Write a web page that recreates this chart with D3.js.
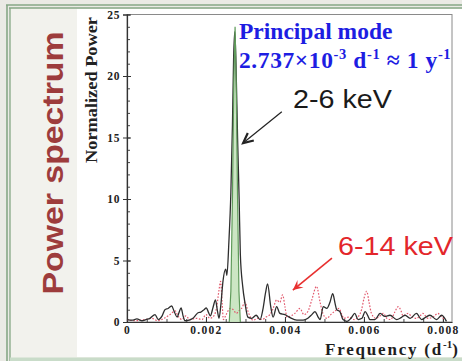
<!DOCTYPE html>
<html>
<head>
<meta charset="utf-8">
<script src="https://cdn.jsdelivr.net/npm/d3@7"></script>
<style>
  html, body { margin: 0; padding: 0; background: #fff; }
  svg { display: block; }
</style>
</head>
<body>
<svg id="chart" width="462" height="361"></svg>
<script>
// Frequencies are in units of 10^-3 d^-1.
const softFreq = [0.00, 0.13, 0.25, 0.38, 0.48, 0.58, 0.71, 0.79, 0.89, 0.96, 1.04, 1.13, 1.19, 1.27, 1.32, 1.37, 1.42, 1.47, 1.57, 1.67, 1.75, 1.80, 1.87, 1.95, 2.01, 2.06, 2.11, 2.18, 2.24, 2.29, 2.33, 2.38, 2.43, 2.50, 2.53, 2.58, 2.63, 2.67, 2.70, 2.73, 2.76, 2.80, 2.84, 2.87, 2.93, 2.99, 3.06, 3.16, 3.27, 3.37, 3.44, 3.51, 3.56, 3.64, 3.70, 3.79, 3.87, 4.00, 4.13, 4.30, 4.46, 4.58, 4.68, 4.76, 4.84, 4.89, 4.97, 5.06, 5.14, 5.21, 5.27, 5.31, 5.39, 5.47, 5.57, 5.67, 5.77, 5.85, 5.95, 6.03, 6.10, 6.15, 6.28, 6.41, 6.53, 6.66, 6.83, 6.94, 7.04, 7.17, 7.33, 7.46, 7.57, 7.67, 7.84, 7.97, 8.09];
const softPower = [0.2, 0.15, 0.25, 0.1, 0.2, 0.3, 0.6, 0.2, 0.5, 1.0, 1.1, 1.3, 0.9, 0.4, 0.8, 1.15, 0.5, 0.1, 0.15, 0.3, 0.6, 0.75, 0.8, 1.0, 1.15, 0.8, 0.5, 1.2, 1.8, 0.9, 0.3, 1.5, 3.3, 4.3, 3.8, 6.5, 10.5, 16, 21.5, 23.6, 21, 15, 10, 5.5, 2.9, 1.5, 0.4, 0.3, 0.55, 0.2, 1.0, 2.4, 3.1, 1.25, 0.4, 1.25, 0.7, 0.6, 0.35, 0.15, 0.15, 0.3, 0.6, 0.85, 0.4, 0.2, 1.25, 1.1, 1.6, 2.3, 1.5, 1.0, 0.85, 0.2, 0.05, 0.3, 0.7, 0.2, 0.3, 0.85, 0.5, 0.2, 0.2, 0.7, 0.45, 0.55, 0.2, 0.35, 0.55, 0.3, 0.7, 0.2, 0.4, 0.55, 0.2, 0.55, 0.05];

const hardFreq = [0.00, 0.20, 0.46, 0.63, 0.78, 0.94, 1.09, 1.22, 1.29, 1.39, 1.49, 1.59, 1.75, 1.90, 2.00, 2.10, 2.20, 2.27, 2.33, 2.37, 2.41, 2.44, 2.51, 2.61, 2.69, 2.77, 2.83, 2.90, 2.99, 3.06, 3.19, 3.32, 3.42, 3.52, 3.62, 3.70, 3.79, 3.87, 3.94, 4.00, 4.05, 4.15, 4.25, 4.38, 4.48, 4.58, 4.68, 4.80, 4.89, 4.96, 5.06, 5.16, 5.27, 5.37, 5.44, 5.49, 5.62, 5.75, 5.87, 5.94, 6.00, 6.07, 6.13, 6.19, 6.30, 6.41, 6.49, 6.58, 6.68, 6.78, 6.87, 6.94, 6.99, 7.12, 7.22, 7.33, 7.42, 7.49, 7.62, 7.75, 7.87, 7.97, 8.05];
const hardPower = [0.2, 0.1, 0.2, 0.3, 0.1, 0.3, 0.6, 0.9, 0.5, 0.2, 0.5, 0.2, 0.3, 0.2, 0.6, 0.3, 0.5, 1.2, 2.6, 3.3, 1.5, 0.2, 0.6, 1.1, 1.0, 0.7, 0.9, 1.1, 1.6, 0.9, 0.15, 0.3, 0.2, 0.4, 0.6, 1.1, 1.8, 1.6, 2.2, 1.25, 0.4, 0.5, 0.7, 1.1, 0.6, 0.85, 1.8, 2.9, 1.6, 0.7, 0.3, 0.6, 0.9, 1.1, 0.6, 0.3, 0.4, 0.2, 0.5, 1.0, 1.9, 2.5, 1.6, 0.7, 0.3, 0.5, 0.7, 0.3, 0.2, 0.8, 1.25, 0.9, 0.5, 0.7, 0.4, 0.3, 0.5, 0.7, 0.3, 0.4, 0.7, 0.4, 0.2];

// Principal mode line (single-frequency component)
const modeFreq = [2.59, 2.63, 2.67, 2.705, 2.737, 2.765, 2.80, 2.835, 2.87];
const modePower = [0, 2.5, 10, 19.5, 24.0, 19.5, 10, 2.5, 0];

const yTicks = [0, 5, 10, 15, 20, 25];
const xTicks = [0, 2, 4, 6, 8];
const xTickLabels = ["0", "0.002", "0.004", "0.006", "0.008"];

const svg = d3.select("#chart");
const W = 462, H = 361;

// slide frame and side panel
svg.append("rect").attr("x", 0).attr("y", 0).attr("width", W).attr("height", H).attr("fill", "#eaeae5");
svg.append("rect").attr("x", 10).attr("y", 8).attr("width", W - 10).attr("height", 351).attr("fill", "#f2f2ed");
svg.append("rect").attr("x", 77).attr("y", 9).attr("width", W - 77).attr("height", 348).attr("fill", "#ffffff");
const frameCol = "#86a786";
svg.append("line").attr("x1", 6).attr("x2", W).attr("y1", 5).attr("y2", 5).attr("stroke", frameCol).attr("stroke-width", 1.6);
svg.append("line").attr("x1", 9).attr("x2", W).attr("y1", 8).attr("y2", 8).attr("stroke", frameCol).attr("stroke-width", 1.3);
svg.append("line").attr("x1", 7).attr("x2", 7).attr("y1", 5).attr("y2", H).attr("stroke", frameCol).attr("stroke-width", 1.6);
svg.append("line").attr("x1", 10).attr("x2", 10).attr("y1", 8).attr("y2", H).attr("stroke", frameCol).attr("stroke-width", 1.3);
svg.append("rect").attr("x", 10).attr("y", 357.5).attr("width", W - 10).attr("height", 3.5).attr("fill", "#c9dcc9");

// side title
svg.append("text")
  .attr("transform", "translate(63,163) rotate(-90)")
  .attr("text-anchor", "middle")
  .attr("font-family", "Liberation Sans, Arial, sans-serif")
  .attr("font-weight", "bold")
  .attr("font-size", 30)
  .attr("textLength", 263)
  .attr("lengthAdjust", "spacingAndGlyphs")
  .attr("fill", "#9d3c3c")
  .text("Power spectrum");

// scales
const x = d3.scaleLinear().domain([0, 8.23]).range([127, 452]);
const y = d3.scaleLinear().domain([0, 25]).range([322, 14.5]);

// plot frame
svg.append("rect")
  .attr("x", x(0)).attr("y", y(25))
  .attr("width", x(8.23) - x(0)).attr("height", y(0) - y(25))
  .attr("fill", "none").attr("stroke", "#8a8a8a").attr("stroke-width", 1);

const serif = "Liberation Serif, Times New Roman, serif";
const sans = "Liberation Sans, Arial, sans-serif";

// y axis: majors crossing the spine, unit minors inside
const yMinor = d3.range(0, 26);
svg.append("g").attr("transform", `translate(${x(0)},0)`)
  .call(d3.axisRight(y).tickValues(yMinor).tickSize(3).tickFormat(""))
  .call(g => g.select(".domain").remove())
  .selectAll("line").attr("stroke", "#444");
const yAx = svg.append("g").attr("transform", `translate(${x(0)},0)`)
  .call(d3.axisLeft(y).tickValues(yTicks).tickSize(4).tickPadding(3).tickFormat(d3.format("d")));
yAx.select(".domain").attr("stroke", "#333").attr("stroke-width", 1.2);
yAx.selectAll(".tick line").attr("stroke", "#333").attr("x2", -4).attr("x1", 4);
yAx.selectAll("text").attr("font-family", serif).attr("font-weight", "bold")
  .attr("font-size", 11.5).attr("fill", "#222").attr("letter-spacing", 0.6);

// x axis
const xMinor = d3.range(0, 8.01, 0.5);
svg.append("g").attr("transform", `translate(0,${y(0)})`)
  .call(d3.axisTop(x).tickValues(xMinor).tickSize(3).tickFormat(""))
  .call(g => g.select(".domain").remove())
  .selectAll("line").attr("stroke", "#444");
const xAx = svg.append("g").attr("transform", `translate(0,${y(0)})`)
  .call(d3.axisBottom(x).tickValues(xTicks).tickSize(0).tickPadding(4).tickFormat((d, i) => xTickLabels[i]));
xAx.select(".domain").attr("stroke", "#333").attr("stroke-width", 1.2);
xAx.selectAll(".tick line").attr("y1", -5).attr("y2", 0).attr("stroke", "#333");
xAx.selectAll("text").attr("font-family", serif).attr("font-weight", "bold")
  .attr("font-size", 11.5).attr("fill", "#222").attr("letter-spacing", 1.3);

// axis titles
svg.append("text")
  .attr("transform", "translate(97,90) rotate(-90)")
  .attr("text-anchor", "middle")
  .attr("font-family", serif).attr("font-weight", "bold").attr("font-size", 16)
  .attr("textLength", 146).attr("lengthAdjust", "spacingAndGlyphs")
  .attr("fill", "#222")
  .text("Normalized Power");

const xt = svg.append("text")
  .attr("x", 325).attr("y", 355)
  .attr("font-family", serif).attr("font-weight", "bold").attr("font-size", 17)
  .attr("fill", "#1e1e1e").attr("letter-spacing", 1.8);
xt.append("tspan").text("Frequency (d");
xt.append("tspan").attr("dy", -7).attr("font-size", 11).attr("letter-spacing", 0).text("-1");
xt.append("tspan").attr("dy", 7).text(")");

// spectra
svg.append("clipPath").attr("id", "plotclip").append("rect")
  .attr("x", x(0)).attr("y", y(25)).attr("width", x(8.23) - x(0)).attr("height", y(0) - y(25));
const plot = svg.append("g").attr("clip-path", "url(#plotclip)");

const modePts = modeFreq.map((f, i) => [f, modePower[i]]);
const softPts = softFreq.map((f, i) => [f, softPower[i]]);
const hardPts = hardFreq.map((f, i) => [f, hardPower[i]]);

plot.append("path")
  .datum(modePts)
  .attr("fill", "#c3e2ba").attr("fill-opacity", 0.85)
  .attr("d", d3.area().x(d => x(d[0])).y0(y(0)).y1(d => y(d[1])));

const lineGen = d3.line().x(d => x(d[0])).y(d => y(d[1])).curve(d3.curveMonotoneX);

plot.append("path").datum(hardPts)
  .attr("fill", "none").attr("stroke", "#e25a6e").attr("stroke-width", 1.2)
  .attr("stroke-dasharray", "1.6,1.6")
  .attr("d", lineGen);

plot.append("path").datum(softPts)
  .attr("fill", "none").attr("stroke", "#2e2e2e").attr("stroke-width", 1.3)
  .attr("stroke-linejoin", "round")
  .attr("d", lineGen);

plot.append("path").datum(modePts)
  .attr("fill", "none").attr("stroke", "#5f9a5a").attr("stroke-width", 1.2)
  .attr("d", d3.line().x(d => x(d[0])).y(d => y(d[1])));

// annotations
const blue = "#1d1de2";
svg.append("text")
  .attr("x", 239).attr("y", 39)
  .attr("font-family", serif).attr("font-weight", "bold").attr("font-size", 23.5)
  .attr("fill", blue)
  .text("Principal mode");
const t2 = svg.append("text")
  .attr("x", 239).attr("y", 68)
  .attr("font-family", serif).attr("font-weight", "bold").attr("font-size", 23.5)
  .attr("letter-spacing", 0.6)
  .attr("fill", blue);
t2.append("tspan").text("2.737×10");
t2.append("tspan").attr("dy", -9).attr("font-size", 14.5).text("-3");
t2.append("tspan").attr("dy", 9).text(" d");
t2.append("tspan").attr("dy", -9).attr("font-size", 14.5).text("-1");
t2.append("tspan").attr("dy", 9).text(" ≈ 1 y");
t2.append("tspan").attr("dy", -9).attr("font-size", 14.5).text("-1");

svg.append("text")
  .attr("x", 293).attr("y", 108)
  .attr("font-family", sans).attr("font-size", 25)
  .attr("textLength", 99).attr("lengthAdjust", "spacingAndGlyphs")
  .attr("fill", "#1a1a1a")
  .text("2-6 keV");

svg.append("text")
  .attr("x", 338).attr("y", 255)
  .attr("font-family", sans).attr("font-size", 26.5)
  .attr("textLength", 115).attr("lengthAdjust", "spacingAndGlyphs")
  .attr("fill", "#e3262b")
  .text("6-14 keV");

function arrow(from, to, color, filled) {
  const x1 = x(from[0]), y1 = y(from[1]), x2 = x(to[0]), y2 = y(to[1]);
  const ang = Math.atan2(y2 - y1, x2 - x1);
  const len = 11, spread = 0.45;
  const a = [x2 - len * Math.cos(ang - spread), y2 - len * Math.sin(ang - spread)];
  const b = [x2 - len * Math.cos(ang + spread), y2 - len * Math.sin(ang + spread)];
  svg.append("line").attr("x1", x1).attr("y1", y1).attr("x2", x2).attr("y2", y2)
    .attr("stroke", color).attr("stroke-width", filled ? 1.6 : 1.2);
  if (filled) {
    svg.append("path").attr("d", `M${a[0]},${a[1]}L${x2},${y2}L${b[0]},${b[1]}L${x2 - 6 * Math.cos(ang)},${y2 - 6 * Math.sin(ang)}Z`)
      .attr("fill", color);
  } else {
    svg.append("path").attr("d", `M${a[0]},${a[1]}L${x2},${y2}L${b[0]},${b[1]}`)
      .attr("fill", "none").attr("stroke", color).attr("stroke-width", 2.2)
      .attr("stroke-linejoin", "miter");
  }
}
arrow([3.92, 17.1], [2.94, 14.55], "#222", false);
arrow([5.19, 5.2], [4.20, 2.6], "#e8302f", true);
</script>
</body>
</html>
